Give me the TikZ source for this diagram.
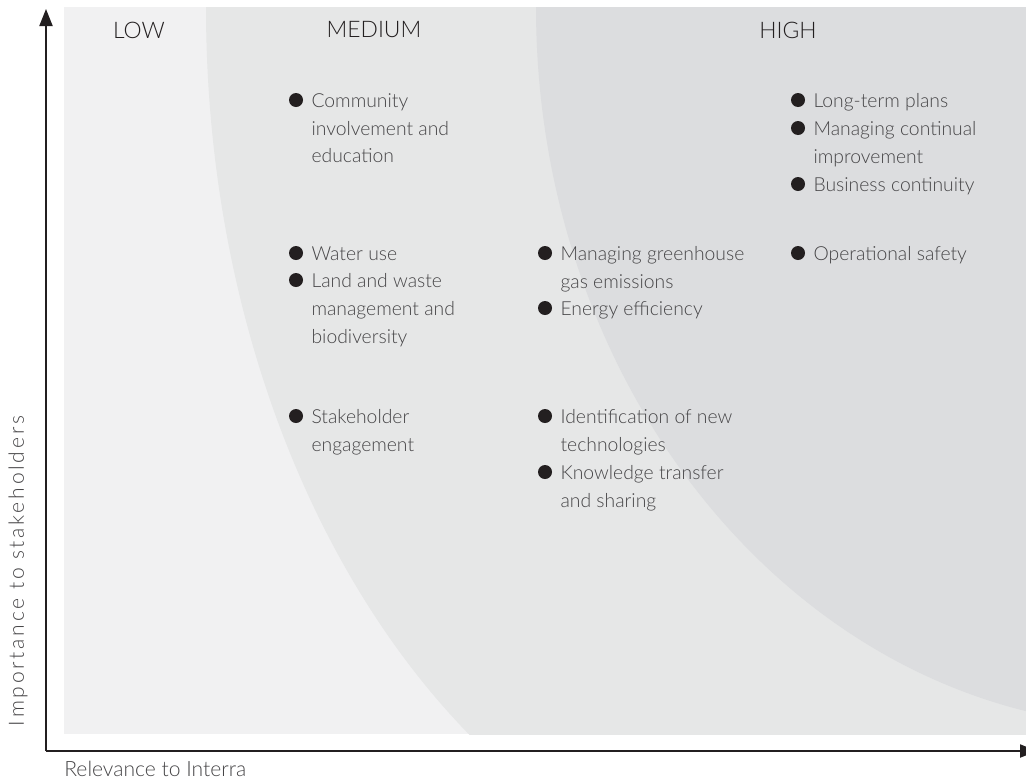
\documentclass[tikz,border=0pt]{standalone}
\usepackage{fontspec}
\setmainfont{Lato Light}
\usetikzlibrary{positioning}
\usetikzlibrary{arrows.meta}
\definecolor{lowzone}{RGB}{241, 241, 242}
\definecolor{medzone}{RGB}{230, 231, 231}
\definecolor{highzone}{RGB}{220, 221, 223}
\definecolor{inkdark}{RGB}{35, 31, 32}
\definecolor{inkgray}{RGB}{70, 69, 71}
\tikzstyle{dot} = [
	circle,
	fill=inkdark,
	inner sep=0pt,
	minimum size=0.28cm
]
\tikzstyle{item} = [
	anchor=north west,
	align=left,
	inner sep=0pt,
	text=inkgray,
	font=\fontsize{11}{15.7}\selectfont,
	yshift=0.7pt
]
\tikzstyle{level} = [
	inner sep=0pt,
	text=inkdark,
	font=\fontsize{13}{15}\selectfont
]
\tikzstyle{axis} = [
	draw=inkdark,
	line width=0.04cm,
	-{Triangle[length=0.34cm, width=0.26cm]}
]
\tikzstyle{axislabel} = [
	inner sep=0pt,
	text=inkgray,
	font=\fontsize{12}{14}\selectfont
]

\begin{document}
\begin{tikzpicture}[x=0.02cm, y=-0.02cm]
	\useasboundingbox (0,0) rectangle (1026,778);

	%
	% Zones
	\fill[lowzone] (64,7) rectangle (1026,734);
	\begin{scope}
		\clip (64,7) rectangle (1026,734);
		\fill[medzone] (846,7) ellipse (640 and 900);
		\fill[highzone] (1156,7) ellipse (620 and 720);
	\end{scope}

	% Axes
	\coordinate (origin) at (46,751);
	\coordinate (ytip) at (46,9);
	\coordinate (xtip) at (1037,751);
	\draw[axis] (origin) -- (ytip);
	\draw[axis] (origin) -- (xtip);
	\node[axislabel, anchor=base west] (xlabel) at (64,776) {Relevance to Interra};
	\node[axislabel, rotate=90, font=\fontsize{12}{14}\selectfont\addfontfeatures{LetterSpace=13}] (ylabel) at (18,571) {Importance to stakeholders};

	% Levels
	\node[level] (low) at (139,30) {LOW};
	\node[level] (medium) at (374,30) {MEDIUM};
	\node[level] (high) at (788,30) {HIGH};

	% Medium column
	\node[dot] (d1) at (296,100) {};
	\node[right=0.2cm of d1.north east, item] (t1) {Community\\involvement and\\education};
	\node[dot] (d2) at (296,253) {};
	\node[right=0.2cm of d2.north east, item] (t2) {Water use};
	\node[dot] (d3) at (296,280) {};
	\node[right=0.2cm of d3.north east, item] (t3) {Land and waste\\management and\\biodiversity};
	\node[dot] (d4) at (296,416) {};
	\node[right=0.2cm of d4.north east, item] (t4) {Stakeholder\\engagement};

	% Middle column
	\node[dot] (d5) at (545,253) {};
	\node[right=0.2cm of d5.north east, item] (t5) {Managing greenhouse\\gas emissions};
	\node[dot] (d6) at (545,308) {};
	\node[right=0.2cm of d6.north east, item] (t6) {Energy efficiency};
	\node[dot] (d7) at (545,416) {};
	\node[right=0.2cm of d7.north east, item] (t7) {Identification of new\\technologies};
	\node[dot] (d8) at (545,472) {};
	\node[right=0.2cm of d8.north east, item] (t8) {Knowledge transfer\\and sharing};

	% High column
	\node[dot] (d9) at (798,100) {};
	\node[right=0.2cm of d9.north east, item] (t9) {Long-term plans};
	\node[dot] (d10) at (798,128) {};
	\node[right=0.2cm of d10.north east, item] (t10) {Managing continual\\improvement};
	\node[dot] (d11) at (798,184) {};
	\node[right=0.2cm of d11.north east, item] (t11) {Business continuity};
	\node[dot] (d12) at (798,253) {};
	\node[right=0.2cm of d12.north east, item] (t12) {Operational safety};

\end{tikzpicture}
\end{document}
